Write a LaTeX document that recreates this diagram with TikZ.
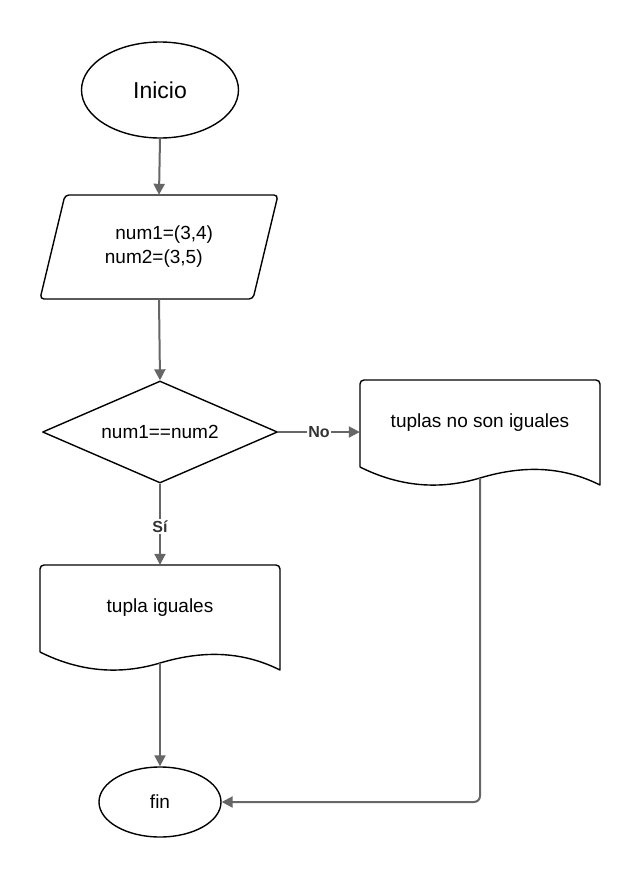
\documentclass[tikz,border=0pt]{standalone}
\usepackage{fontspec}
\setmainfont{Liberation Sans}
\usetikzlibrary{arrows.meta,shapes.geometric}
\definecolor{flowline}{HTML}{666666}
\definecolor{labeltext}{HTML}{333333}
\tikzset{
  outline/.style={draw=black,line width=1.4pt,line join=round},
  flow/.style={draw=flowline,line width=2pt,-{Triangle[length=11pt,width=11pt]}},
  txt/.style={font=\fontsize{19}{24}\selectfont,inner sep=0pt},
  holder/.style={rectangle,inner sep=0pt,font=\fontsize{19}{24}\selectfont},
  lbl/.style={font=\bfseries\fontsize{16}{19}\selectfont,text=labeltext,fill=white,inner sep=1.5pt},
  terminal/.style={ellipse,outline,inner sep=0pt}
}
\begin{document}
\begin{tikzpicture}[x=1pt,y=-1pt]
  \useasboundingbox (0,0) rectangle (640,878);

  % start terminal
  \node[terminal,minimum width=157pt,minimum height=96pt,font=\fontsize{23}{28}\selectfont]
    (start) at (160,90) {Inicio};

  % input: parallelogram with slightly rounded corners
  \node[holder,minimum width=238pt,minimum height=104pt,align=left] (input) at (159,247)
    {\hspace{0.55em}num1=(3,4)\\num2=(3,5)};
  \draw[outline,rounded corners=4pt] (65,195) -- (278,195) -- (253,299) -- (40,299) -- cycle;

  % decision
  \node[diamond,outline,minimum width=235pt,minimum height=102pt,inner sep=0pt,aspect=2.3,
    font=\fontsize{19}{24}\selectfont] (test) at (160,432) {};
  \node[txt] (testtext) at (test.center) {num1==num2};

  % output documents (wavy bottom edge)
  \node[holder,minimum width=240pt,minimum height=86pt] (docno) at (480,423) {tuplas no son iguales};
  \draw[outline] (360,467) -- (360,384) [rounded corners=4pt] -- (360,380) -- (600,380) [sharp corners] -- (600,485)
    .. controls (560,465) and (520,466) .. (480,478)
    .. controls (440,490) and (400,487) .. (360,467);
  \coordinate (docno-out) at (480,478);

  \node[holder,minimum width=240pt,minimum height=86pt] (docyes) at (160,608) {tupla iguales};
  \draw[outline] (40,652) -- (40,569) [rounded corners=4pt] -- (40,565) -- (280,565) [sharp corners] -- (280,670)
    .. controls (240,650) and (200,651) .. (160,663)
    .. controls (120,675) and (80,672) .. (40,652);
  \coordinate (docyes-out) at (160,663);

  % end terminal
  \node[terminal,minimum width=122pt,minimum height=70pt,font=\fontsize{19}{24}\selectfont]
    (stop) at (160,802) {fin};

  % connectors
  \draw[flow] (start.south) -- (input.north);
  \draw[flow] (input.south) -- (test.north);
  \draw[flow] (test.east) -- (test.east -| docno.west) node[lbl,pos=0.5] {No};
  \draw[flow] (test.south) -- (docyes.north) node[lbl,pos=0.53] {Sí};
  \draw[flow] (docyes-out) -- (stop.north);
  \draw[flow,rounded corners=6pt] (docno-out) |- (stop.east);
\end{tikzpicture}
\end{document}
